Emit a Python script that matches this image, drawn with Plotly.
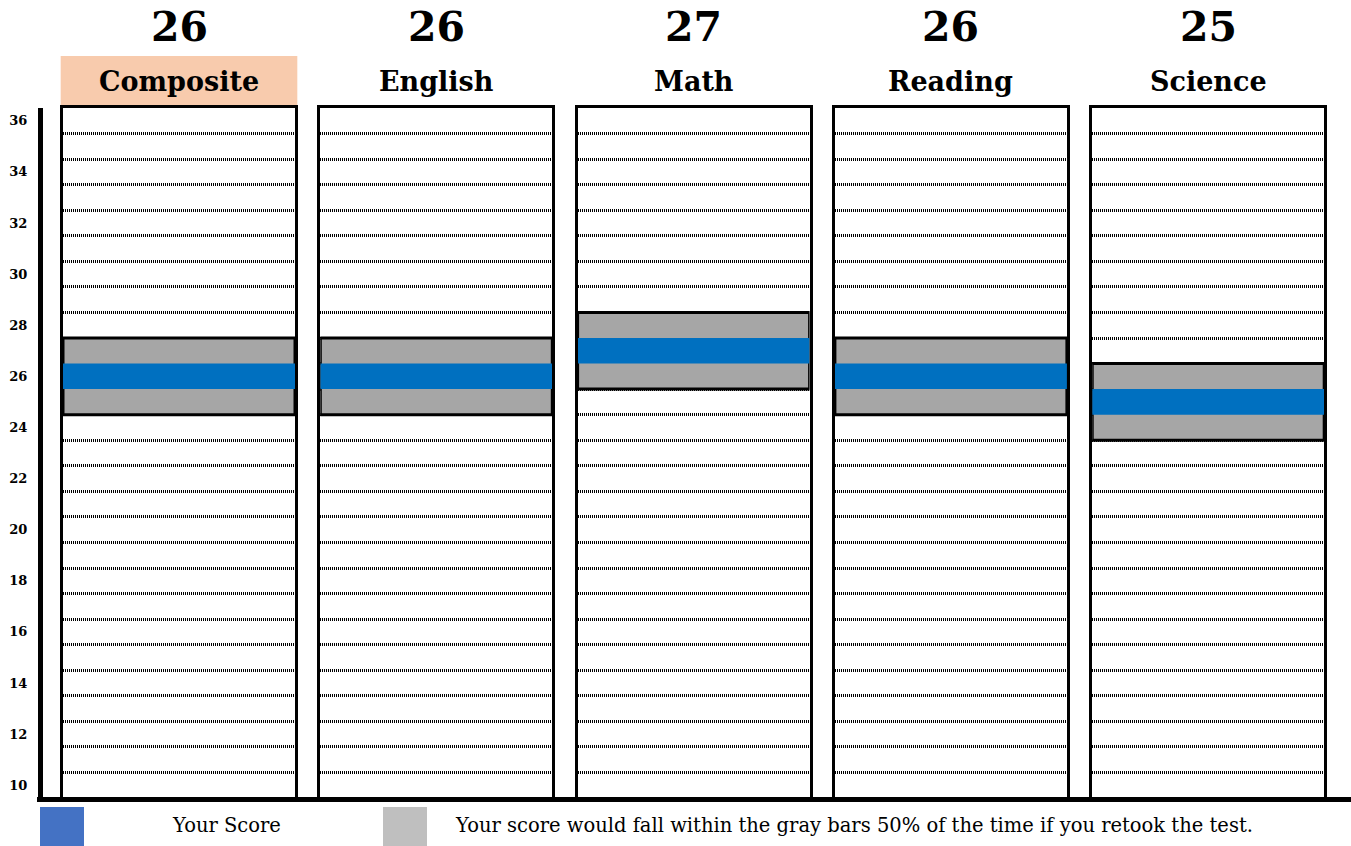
import plotly.graph_objects as go

subjects = ["Composite", "English", "Math", "Reading", "Science"]
scores = [26, 26, 27, 26, 25]
range_low = [25, 25, 26, 25, 24]
range_high = [27, 27, 28, 27, 26]
tick_values = list(range(10, 37, 2))
tick_labels = [str(v) for v in tick_values]
grid_values = [v + 0.5 for v in range(10, 36)]

W, H = 1351, 846
T, B = 108, 48
PH = H - T - B
SERIF = "DejaVu Serif"

GRAY = "#A6A6A6"
BLUE = "#0070C0"
PEACH = "#F8CBAD"

fig = go.Figure()
layout = dict(
    width=W, height=H,
    margin=dict(l=0, r=0, t=T, b=B, pad=0),
    paper_bgcolor="white", plot_bgcolor="white",
    barmode="overlay", showlegend=False,
)

def px_x(p):
    return p / W

def px_y(p):
    return (H - B - p) / PH

annotations = []
shapes = []
period = 257.3
for i, subj in enumerate(subjects):
    n = "" if i == 0 else str(i + 1)
    x0 = 63 + period * i
    x1 = 295 + period * i
    layout["xaxis" + n] = dict(
        domain=[px_x(x0), px_x(x1)], range=[0, 1], anchor="y" + n,
        showticklabels=False, showgrid=False, zeroline=False, ticks="",
        showline=True, mirror=True, linewidth=3, linecolor="black", fixedrange=True,
    )
    layout["yaxis" + n] = dict(
        domain=[0, 1], range=[9.5, 36.5], anchor="x" + n,
        tickvals=grid_values, showticklabels=False, ticks="",
        showgrid=True, gridcolor="black", gridwidth=2.5, griddash="1px,1px",
        zeroline=False, showline=True, mirror=True, linewidth=3, linecolor="black",
        fixedrange=True,
    )
    lo, hi, sc = range_low[i], range_high[i], scores[i]
    fig.add_trace(go.Bar(
        x=[0.5], y=[hi - lo + 1], base=[lo - 0.5], width=[1],
        marker=dict(color=GRAY, line=dict(color="black", width=3)),
        xaxis="x" + n, yaxis="y" + n, hoverinfo="skip",
    ))
    fig.add_trace(go.Bar(
        x=[0.5], y=[1], base=[sc - 0.5], width=[1],
        marker=dict(color=BLUE, line=dict(width=0)),
        xaxis="x" + n, yaxis="y" + n, hoverinfo="skip",
    ))
    xd = "x" + n + " domain"
    annotations.append(dict(
        text=str(sc), xref=xd, x=0.5, yref="paper", y=px_y(27),
        xanchor="center", yanchor="middle", showarrow=False,
        font=dict(family=SERIF, size=41, color="black", weight="bold"),
    ))
    annotations.append(dict(
        text=subj, xref=xd, x=0.5, yref="paper", y=px_y(82),
        xanchor="center", yanchor="middle", showarrow=False,
        font=dict(family=SERIF, size=27, color="black", weight="bold"),
    ))
    if i == 0:
        shapes.append(dict(
            type="rect", xref=xd, yref="paper", x0=-0.01, x1=1.01,
            y0=px_y(105), y1=px_y(56), fillcolor=PEACH, line=dict(width=0),
            layer="below",
        ))

# left score axis
layout["yaxis6"] = dict(
    overlaying="y", anchor="free", position=px_x(40), side="left",
    range=[9.5, 36.5], tickvals=tick_values, ticktext=tick_labels,
    tickfont=dict(family=SERIF, size=13, color="black", weight="bold"),
    ticks="", ticklabelstandoff=8, showgrid=False, zeroline=False,
    showline=True, linewidth=5, linecolor="black", fixedrange=True,
)
fig.add_trace(go.Scatter(x=[None], y=[None], xaxis="x", yaxis="y6",
                         mode="markers", hoverinfo="skip"))

# bottom baseline
shapes.append(dict(
    type="line", xref="paper", yref="paper", x0=px_x(37), x1=1.0,
    y0=px_y(799.5), y1=px_y(799.5), line=dict(color="black", width=5),
))

# legend
shapes.append(dict(type="rect", xref="paper", yref="paper",
                   x0=px_x(40), x1=px_x(84), y0=px_y(846), y1=px_y(807),
                   fillcolor="#4472C4", line=dict(width=0)))
shapes.append(dict(type="rect", xref="paper", yref="paper",
                   x0=px_x(383), x1=px_x(427), y0=px_y(846), y1=px_y(807),
                   fillcolor="#BFBFBF", line=dict(width=0)))
annotations.append(dict(
    text="Your Score", xref="paper", x=px_x(170), yref="paper", y=px_y(826),
    xanchor="left", yanchor="middle", showarrow=False,
    font=dict(family=SERIF, size=19.5, color="black"),
))
annotations.append(dict(
    text="Your score would fall within the gray bars 50% of the time if you retook the test.",
    xref="paper", x=px_x(453), yref="paper", y=px_y(826),
    xanchor="left", yanchor="middle", showarrow=False,
    font=dict(family=SERIF, size=19.5, color="black"),
))

layout["annotations"] = annotations
layout["shapes"] = shapes
fig.update_layout(**layout)
fig.write_html(
    "out.html",
    config={"displayModeBar": False},
    post_script="document.body.style.margin='0';document.body.style.overflow='hidden';",
)
